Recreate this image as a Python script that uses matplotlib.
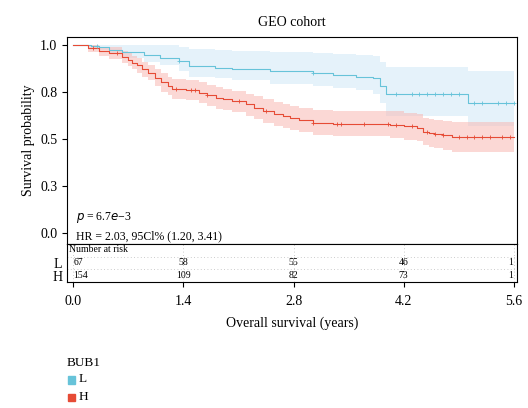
import matplotlib.pyplot as plt
from matplotlib.patches import Rectangle

plt.rcParams['font.family'] = ['Liberation Serif', 'DejaVu Serif']

# step curves (time in years, survival)
low_t = [0.0, 0.23, 0.32, 0.45, 0.62, 0.9, 1.1, 1.34, 1.47, 1.8, 2.02, 2.5, 3.05, 3.3,
         3.6, 3.81, 3.9, 3.98, 5.02, 5.6]
low_s = [1.0, 0.995, 0.986, 0.97, 0.959, 0.945, 0.93, 0.914, 0.886, 0.878, 0.871, 0.86,
         0.850, 0.84, 0.83, 0.820, 0.78, 0.739, 0.689, 0.689]
low_hi = [1.0, 1.0, 1.0, 1.0, 1.0, 1.0, 1.0, 0.99, 0.975, 0.97, 0.965, 0.96, 0.955, 0.95,
          0.945, 0.94, 0.91, 0.88, 0.86, 0.86]
low_lo = [1.0, 0.98, 0.97, 0.95, 0.93, 0.91, 0.89, 0.86, 0.83, 0.82, 0.81, 0.79, 0.78,
          0.77, 0.76, 0.74, 0.69, 0.62, 0.57, 0.57]

high_t = [0.0, 0.19, 0.32, 0.45, 0.62, 0.7, 0.75, 0.81, 0.87, 0.95, 1.04, 1.12, 1.2, 1.26,
          1.43, 1.6, 1.7, 1.81, 1.9, 2.02, 2.19, 2.3, 2.41, 2.55, 2.66, 2.75, 2.87, 3.05,
          3.3, 4.02, 4.2, 4.37, 4.45, 4.52, 4.58, 4.7, 4.81, 5.6]
high_s = [1.0, 0.982, 0.964, 0.955, 0.932, 0.92, 0.905, 0.89, 0.870, 0.85, 0.825, 0.80,
          0.78, 0.762, 0.759, 0.745, 0.73, 0.718, 0.71, 0.700, 0.682, 0.665, 0.646, 0.632,
          0.620, 0.61, 0.600, 0.584, 0.580, 0.575, 0.565, 0.557, 0.536, 0.53, 0.525,
          0.518, 0.509, 0.509]
high_hi = [1.0, 1.0, 0.99, 0.985, 0.965, 0.955, 0.94, 0.93, 0.91, 0.89, 0.87, 0.85, 0.83,
           0.815, 0.81, 0.80, 0.785, 0.775, 0.765, 0.755, 0.74, 0.725, 0.71, 0.695, 0.685,
           0.675, 0.665, 0.65, 0.645, 0.645, 0.635, 0.63, 0.61, 0.605, 0.60, 0.595, 0.59,
           0.59]
high_lo = [1.0, 0.96, 0.94, 0.925, 0.90, 0.885, 0.87, 0.85, 0.83, 0.81, 0.78, 0.75, 0.73,
           0.71, 0.705, 0.69, 0.675, 0.66, 0.65, 0.64, 0.62, 0.605, 0.585, 0.57, 0.555,
           0.545, 0.535, 0.52, 0.515, 0.505, 0.495, 0.485, 0.465, 0.455, 0.45, 0.44, 0.43,
           0.43]

low_cens = [0.3, 1.34, 3.05, 4.1, 4.3, 4.4, 4.5, 4.6, 4.7, 4.8, 4.9, 5.1, 5.2, 5.4, 5.5, 5.6]
high_cens = [0.25, 0.55, 1.3, 1.5, 1.55, 1.7, 2.1, 2.45, 3.05, 3.35, 3.4, 3.7, 4.0, 4.1,
             4.3, 4.5, 4.6, 4.7, 4.9, 5.0, 5.1, 5.2, 5.3, 5.45, 5.55]

risk_times = [0.0, 1.4, 2.8, 4.2, 5.6]
risk_low = [67, 58, 55, 46, 1]
risk_high = [154, 109, 82, 73, 1]

c_low = '#67c3d9'
c_high = '#e64b35'

fig = plt.figure(figsize=(5.28, 4.08), dpi=100)
ax = fig.add_axes([0.127, 0.402, 0.852, 0.507])
tab = fig.add_axes([0.127, 0.309, 0.852, 0.093])


def surv_at(ts, ss, t):
    v = ss[0]
    for a, b in zip(ts, ss):
        if a <= t:
            v = b
    return v


ax.fill_between(low_t, low_lo, low_hi, step='post', color='#d4eaf7', alpha=0.6, lw=0)
ax.fill_between(high_t, high_lo, high_hi, step='post', color='#f9b8b3', alpha=0.55, lw=0)
ax.step(low_t, low_s, where='post', color=c_low, lw=0.8)
ax.step(high_t, high_s, where='post', color=c_high, lw=0.8)
ax.plot(low_cens, [surv_at(low_t, low_s, t) for t in low_cens], '+', color=c_low, ms=3, mew=0.6)
ax.plot(high_cens, [surv_at(high_t, high_s, t) for t in high_cens], '+', color=c_high, ms=3, mew=0.6)

ax.set_xlim(-0.08, 5.64)
ax.set_ylim(-0.06, 1.04)
ax.set_yticks([0, 0.25, 0.5, 0.75, 1.0])
ax.set_yticklabels(['0.0', '0.3', '0.5', '0.8', '1.0'], fontsize=10)
ax.set_xticks([])
ax.set_ylabel('Survival probability', fontsize=10)
ax.set_title('GEO cohort', fontsize=10, pad=8)
ax.text(0.02, 0.115, '$p$ = 6.7$e$\u22123', transform=ax.transAxes, fontsize=8.5)
ax.text(0.02, 0.025, 'HR = 2.03, 95Cl% (1.20, 3.41)', transform=ax.transAxes, fontsize=8.5)

tab.set_xlim(-0.08, 5.64)
tab.set_ylim(0, 3)
for x in risk_times:
    tab.axvline(x, color='#bbbbbb', ls=(0, (1, 3)), lw=0.6)
for y in [1.0, 2.0]:
    tab.axhline(y, color='#bbbbbb', ls=(0, (1, 3)), lw=0.6)
tab.text(-0.06, 2.55, 'Number at risk', fontsize=7, va='center')
for x, a, b in zip(risk_times, risk_low, risk_high):
    ha = 'right' if x > 5 else ('left' if x == 0 else 'center')
    xx = x - 0.01 if x > 5 else x
    tab.text(xx, 1.5, str(a), fontsize=7, ha=ha, va='center')
    tab.text(xx, 0.5, str(b), fontsize=7, ha=ha, va='center')
tab.set_yticks([1.5, 0.5])
tab.set_yticklabels(['L', 'H'], fontsize=10)
tab.tick_params(axis='y', length=0)
tab.set_xticks(risk_times)
tab.set_xticklabels(['0.0', '1.4', '2.8', '4.2', '5.6'], fontsize=10)
tab.tick_params(axis='x', pad=6)
tab.set_xlabel('Overall survival (years)', fontsize=10, labelpad=6)

fig.text(0.127, 0.11, 'BUB1', fontsize=9.5, va='center')
for y, c, lab in [(0.071, c_low, 'L'), (0.027, c_high, 'H')]:
    fig.patches.append(Rectangle((0.129, y - 0.011), 0.013, 0.018, color=c,
                                 transform=fig.transFigure))
    fig.text(0.149, y, lab, fontsize=9.5, va='center')

fig.savefig('out.png', dpi=100)
